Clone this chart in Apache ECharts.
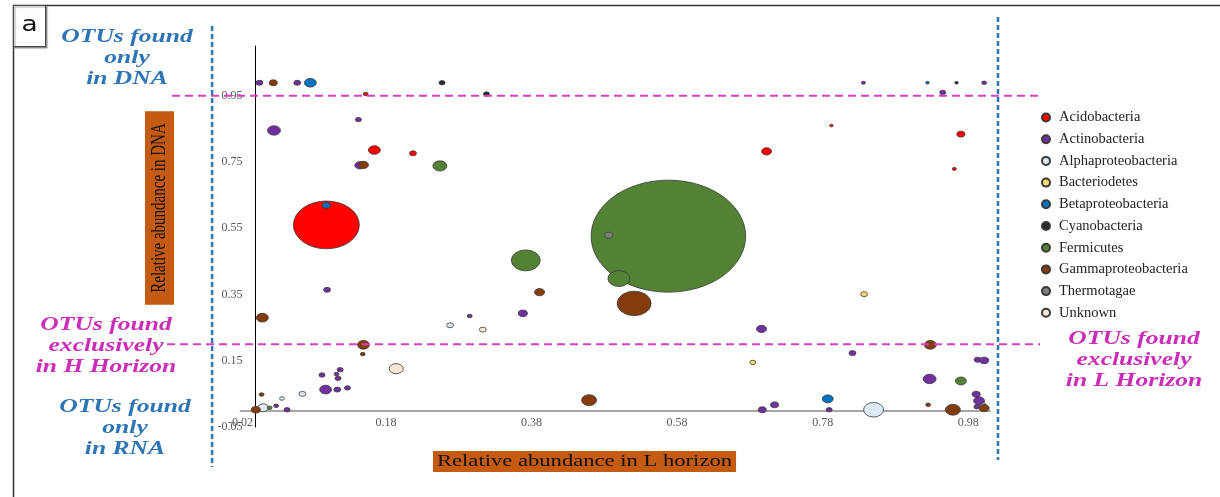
<!DOCTYPE html>
<html>
<head>
<meta charset="utf-8">
<script src="https://cdn.jsdelivr.net/npm/echarts@6/dist/echarts.min.js"></script>
<style>
  html, body { margin: 0; padding: 0; background: #fff; }
  #chart { width: 1220px; height: 497px; }
</style>
</head>
<body>
<div id="chart"></div>
<script>
// Each OTU: [relative abundance in L horizon, relative abundance in DNA, bubble abundance (%)]
const acidobacteria = [
  [0.098, 0.560, 18.2], [0.152, 0.955, 0.10], [0.164, 0.786, 0.60], [0.217, 0.776, 0.20],
  [0.703, 0.782, 0.42], [0.792, 0.860, 0.04], [0.970, 0.834, 0.27], [0.961, 0.729, 0.07]
];
const actinobacteria = [
  [0.006, 0.989, 0.20], [0.058, 0.989, 0.20], [0.836, 0.989, 0.07], [1.002, 0.989, 0.10],
  [0.945, 0.960, 0.15], [0.026, 0.845, 0.70], [0.142, 0.878, 0.15], [0.144, 0.740, 0.42],
  [0.099, 0.364, 0.20], [0.368, 0.293, 0.34], [0.295, 0.285, 0.10], [0.696, 0.246, 0.42],
  [0.821, 0.173, 0.20], [0.092, 0.107, 0.15], [0.117, 0.123, 0.15], [0.112, 0.110, 0.10],
  [0.114, 0.097, 0.15], [0.097, 0.063, 0.60], [0.113, 0.063, 0.20], [0.127, 0.068, 0.15],
  [0.029, 0.014, 0.10], [0.044, 0.002, 0.15], [0.697, 0.002, 0.27], [0.714, 0.017, 0.27],
  [0.789, 0.002, 0.15], [0.927, 0.095, 0.70], [0.993, 0.153, 0.20], [1.002, 0.151, 0.34],
  [0.991, 0.049, 0.27], [0.995, 0.029, 0.50], [0.992, 0.011, 0.15]
];
const alphaproteobacteria = [
  [0.268, 0.257, 0.20], [0.065, 0.050, 0.20], [0.037, 0.036, 0.10], [0.011, 0.008, 0.50],
  [0.850, 0.002, 1.67], [1.001, 0.017, 0.10]
];
const bacteriodetes = [
  [0.837, 0.351, 0.20], [0.684, 0.145, 0.15]
];
const betaproteobacteria = [
  [0.076, 0.989, 0.60], [0.098, 0.619, 0.27], [0.787, 0.035, 0.50], [0.924, 0.989, 0.04]
];
const cyanobacteria = [
  [0.257, 0.989, 0.15], [0.318, 0.955, 0.15], [0.964, 0.989, 0.04]
];
const fermicutes = [
  [0.568, 0.526, 100], [0.254, 0.738, 0.82], [0.372, 0.453, 3.5], [0.500, 0.398, 2.0],
  [0.020, 0.008, 0.10], [0.970, 0.089, 0.50]
];
const gammaproteobacteria = [
  [0.521, 0.323, 4.8], [0.025, 0.989, 0.27], [0.149, 0.741, 0.42], [0.391, 0.357, 0.42],
  [0.010, 0.280, 0.60], [0.149, 0.198, 0.60], [0.148, 0.170, 0.10], [0.009, 0.048, 0.10],
  [0.001, 0.002, 0.34], [0.459, 0.031, 0.94], [0.928, 0.198, 0.60], [0.925, 0.017, 0.10],
  [0.959, 0.002, 0.94], [1.002, 0.007, 0.42]
];
const thermotagae = [
  [0.486, 0.529, 0.27]
];
const unknown = [
  [0.313, 0.244, 0.20], [0.194, 0.126, 0.82]
];

const phyla = ['Acidobacteria', 'Actinobacteria', 'Alphaproteobacteria', 'Bacteriodetes',
  'Betaproteobacteria', 'Cyanobacteria', 'Fermicutes', 'Gammaproteobacteria', 'Thermotagae', 'Unknown'];
const phylumData = [acidobacteria, actinobacteria, alphaproteobacteria, bacteriodetes,
  betaproteobacteria, cyanobacteria, fermicutes, gammaproteobacteria, thermotagae, unknown];

// Axis ranges and tick spacing
const xRange = [-0.02, 1.01];
const yRange = [-0.05, 1.1];
const tickStep = 0.2;

// Boundaries of the OTU groups
const dnaOnlyLevel = 0.95;   // above: found only in DNA
const hOnlyLevel = 0.2;      // below: found exclusively in H horizon / L horizon
const rnaOnlyEdge = -0.059;  // left boundary guide
const lOnlyEdge = 1.021;     // right boundary guide

const phylumColors = ['#FF0000', '#7030A0', '#DEEBF7', '#FFD966', '#0070C0',
  '#2B2B2B', '#548235', '#843C0C', '#7F7F7F', '#FBE5D6'];

const serif = '"Liberation Serif", "DejaVu Serif", serif';
const blueNote = '#2E75B6';
const pinkNote = '#CC2DB8';
const wide = 1.38; // horizontal stretch of the figure

const chart = echarts.init(document.getElementById('chart'), null, { renderer: 'canvas' });

const bubbleSize = v => {
  const h = Math.max(2.6, 11.2 * Math.sqrt(v[2]));
  return [h * wide, h];
};

chart.setOption({
  animation: false,
  backgroundColor: '#ffffff',
  grid: { left: 240.5, right: 230, top: 46, bottom: 70 },
  xAxis: {
    type: 'value',
    min: xRange[0], max: xRange[1], interval: tickStep,
    axisLine: { onZero: true, lineStyle: { color: '#A6A6A6', width: 2 } },
    axisTick: { show: false },
    splitLine: { show: false },
    axisLabel: {
      showMaxLabel: false, margin: -10,
      fontFamily: serif, fontSize: 12, color: '#595959',
      formatter: v => v.toFixed(2)
    }
  },
  yAxis: {
    type: 'value',
    min: yRange[0], max: yRange[1], interval: tickStep,
    axisLine: { onZero: true, lineStyle: { color: '#000000', width: 1 } },
    axisTick: { show: false },
    splitLine: { show: false },
    axisLabel: {
      showMaxLabel: false, margin: -2,
      fontFamily: serif, fontSize: 12, color: '#595959',
      formatter: v => v.toFixed(2)
    }
  },
  legend: {
    orient: 'vertical',
    left: 1036, top: 105,
    icon: 'circle',
    itemWidth: 8, itemHeight: 8, itemGap: 6.7,
    textStyle: { fontFamily: serif, fontSize: 14.5, color: '#222', lineHeight: 14, padding: [0, 0, 0, 4] },
    data: phyla
  },
  series: phyla.map((name, i) => ({
    type: 'scatter',
    name,
    data: phylumData[i],
    symbol: 'circle',
    symbolSize: bubbleSize,
    itemStyle: { color: phylumColors[i], borderColor: '#3A3A3A', borderWidth: 0.8, opacity: 1 },
    emphasis: { disabled: true }
  }))
});

// Guides and notes placed from the axis scales
const px = v => chart.convertToPixel({ xAxisIndex: 0 }, v);
const py = v => chart.convertToPixel({ yAxisIndex: 0 }, v);
const yDna = py(dnaOnlyLevel);
const yH = py(hOnlyLevel);
const xRna = px(rnaOnlyEdge);
const xL = px(lOnlyEdge);

const note = (text, x, y, color) => ({
  type: 'text', x, y, scaleX: 1.42, silent: true,
  style: {
    text, fill: color, align: 'center', verticalAlign: 'top',
    font: 'italic bold 18px "Liberation Serif", serif', lineHeight: 21
  }
});

chart.setOption({
  graphic: [
    // panel frame
    { type: 'polyline', silent: true, shape: { points: [[13.5, 497], [13.5, 5.5], [1220, 5.5]] },
      style: { stroke: '#333', lineWidth: 1.5, fill: null } },
    { type: 'rect', silent: true, shape: { x: 13.5, y: 5.5, width: 32, height: 41 },
      style: { fill: '#fff', stroke: '#444', lineWidth: 1, shadowColor: 'rgba(0,0,0,0.35)', shadowOffsetX: 1.5, shadowOffsetY: 1.5, shadowBlur: 1 } },
    { type: 'text', silent: true, x: 29.5, y: 25, scaleX: 1.2, style: { text: 'a', font: '22px "DejaVu Sans", sans-serif', fill: '#111', align: 'center', verticalAlign: 'middle' } },

    // group boundary guides
    { type: 'line', silent: true, z: 100, shape: { x1: 172, y1: yDna, x2: 1043, y2: yDna },
      style: { stroke: '#DD3FC4', lineWidth: 2, lineDash: [8, 5] } },
    { type: 'line', silent: true, z: 100, shape: { x1: 167, y1: yH, x2: 1040, y2: yH },
      style: { stroke: '#DD3FC4', lineWidth: 2, lineDash: [8, 5] } },
    { type: 'line', silent: true, z: 100, shape: { x1: xRna, y1: 26, x2: xRna, y2: 467 },
      style: { stroke: '#2E75B6', lineWidth: 2.5, lineDash: [5, 3] } },
    { type: 'line', silent: true, z: 100, shape: { x1: xL, y1: 17, x2: xL, y2: 460 },
      style: { stroke: '#2E75B6', lineWidth: 2.5, lineDash: [5, 3] } },

    // axis titles
    { type: 'text', silent: true, x: 159.5, y: 208, rotation: Math.PI / 2, scaleY: wide,
      style: { text: 'Relative abundance in DNA', font: '15px ' + serif, fill: '#111',
        backgroundColor: '#C55A11', padding: [3, 12, 3, 12], align: 'center', verticalAlign: 'middle' } },
    { type: 'text', silent: true, x: 584.5, y: 461.5, scaleX: 1.33,
      style: { text: 'Relative abundance in L horizon', font: '17px ' + serif, fill: '#111',
        backgroundColor: '#C55A11', padding: [2, 3, 2, 3], align: 'center', verticalAlign: 'middle' } },

    // group notes
    note('OTUs found\nonly\nin DNA', 127, 27, blueNote),
    note('OTUs found\nexclusively\nin H Horizon', 106, 315, pinkNote),
    note('OTUs found\nonly\nin RNA', 125, 397, blueNote),
    note('OTUs found\nexclusively\nin L Horizon', 1134, 329, pinkNote)
  ]
});
</script>
</body>
</html>
